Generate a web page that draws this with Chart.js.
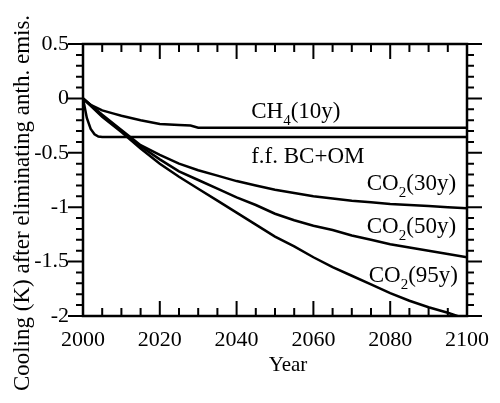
<!DOCTYPE html>
<html><head><meta charset="utf-8">
<script src="https://cdn.jsdelivr.net/npm/chart.js@4"></script>
<style>html,body{margin:0;padding:0;background:#fff}</style>
</head><body>
<canvas id="c" width="500" height="403"></canvas>
<script>
// ---- data ----
const co2Years = [2000,2005,2010,2015,2020,2025,2030,2035,2040,2045,2050,2055,2060,2065,2070,2075,2080,2085,2090,2095,2100];
const co2_30y  = [0,-0.15,-0.29,-0.43,-0.52,-0.60,-0.66,-0.71,-0.76,-0.80,-0.84,-0.87,-0.90,-0.92,-0.94,-0.955,-0.97,-0.98,-0.99,-1.00,-1.01];
const co2_50y  = [0,-0.16,-0.30,-0.44,-0.56,-0.67,-0.75,-0.83,-0.91,-0.98,-1.06,-1.12,-1.17,-1.21,-1.26,-1.30,-1.34,-1.37,-1.40,-1.43,-1.46];
const co2_95y  = [0,-0.17,-0.31,-0.46,-0.60,-0.72,-0.83,-0.94,-1.05,-1.16,-1.27,-1.36,-1.46,-1.55,-1.63,-1.71,-1.79,-1.86,-1.92,-1.97,-2.03];
const ch4Years = [2000,2002,2005,2008,2010,2015,2020,2025,2028,2030,2100];
const ch4Vals  = [0,-0.06,-0.11,-0.14,-0.16,-0.20,-0.235,-0.245,-0.25,-0.27,-0.27];
const bcYears  = [2000,2001,2002,2003,2004,2005,2100];
const bcVals   = [0,-0.18,-0.28,-0.33,-0.35,-0.355,-0.355];
const xTickValues = [2000,2020,2040,2060,2080,2100];
const xTickLabels = ['2000','2020','2040','2060','2080','2100'];
const yTickValues = [-2,-1.5,-1,-0.5,0,0.5];
const yTickLabels = ['-2','-1.5','-1','-0.5','0','0.5'];
const seriesLabels = [
  {main:'CH', sub:'4', rest:'(10y)', x:2043.8, y:-0.178},
  {main:'f.f. BC+OM', sub:'', rest:'', x:2043.8, y:-0.592},
  {main:'CO', sub:'2', rest:'(30y)', x:2073.9, y:-0.841},
  {main:'CO', sub:'2', rest:'(50y)', x:2073.9, y:-1.236},
  {main:'CO', sub:'2', rest:'(95y)', x:2074.4, y:-1.687}
];
const xTitle = 'Year';
const yTitle = 'Cooling (K) after eliminating anth. emis.';

const FONT = "'Liberation Serif', serif";
Chart.defaults.font.family = FONT;
const pts = (xs, ys) => xs.map((x,i)=>({x:x, y:ys[i]}));
const lineStyle = {borderColor:'#000', borderWidth:2.5, pointRadius:0, tension:0, fill:false};

const decor = {
  id:'decor',
  afterDraw(chart){
    const ctx = chart.ctx, xs = chart.scales.x, ys = chart.scales.y, a = chart.chartArea;
    ctx.save();
    ctx.strokeStyle = '#000'; ctx.lineCap = 'butt';
    ctx.lineWidth = 2;
    ctx.beginPath();
    for (let v = 2000; v <= 2100; v += 5) {
      const px = xs.getPixelForValue(v);
      const len = (v % 20 === 0) ? 15 : 8;
      ctx.moveTo(px, a.bottom); ctx.lineTo(px, a.bottom - len);
      ctx.moveTo(px, a.top); ctx.lineTo(px, a.top + len);
    }
    for (let i = -20; i <= 5; i++) {
      const v = i / 10;
      const py = ys.getPixelForValue(v);
      const len = (i % 5 === 0) ? 15 : 7;
      ctx.moveTo(a.left, py); ctx.lineTo(a.left - len, py);
      ctx.moveTo(a.right, py); ctx.lineTo(a.right + len, py);
    }
    ctx.stroke();
    ctx.lineWidth = 2.5;
    ctx.strokeRect(a.left, a.top, a.right - a.left, a.bottom - a.top);
    ctx.fillStyle = '#000';
    ctx.font = '21px ' + FONT;
    ctx.textAlign = 'center'; ctx.textBaseline = 'middle';
    ctx.fillText(xTitle, 288, 365);
    ctx.save();
    ctx.translate(23, 203); ctx.rotate(-Math.PI/2);
    ctx.font = '23px ' + FONT;
    ctx.fillText(yTitle, 0, 0);
    ctx.restore();
    ctx.textAlign = 'left'; ctx.textBaseline = 'alphabetic';
    seriesLabels.forEach(l => {
      let px = xs.getPixelForValue(l.x);
      const py = ys.getPixelForValue(l.y);
      ctx.font = '23px ' + FONT;
      ctx.fillText(l.main, px, py); px += ctx.measureText(l.main).width;
      if (l.sub) {
        ctx.font = '15px ' + FONT;
        ctx.fillText(l.sub, px, py + 7); px += ctx.measureText(l.sub).width;
      }
      if (l.rest) {
        ctx.font = '23px ' + FONT;
        ctx.fillText(l.rest, px, py);
      }
    });
    ctx.restore();
  }
};

new Chart(document.getElementById('c'), {
  type:'line',
  data:{datasets:[
    Object.assign({label:'CH4', data:pts(ch4Years, ch4Vals)}, lineStyle),
    Object.assign({label:'BC+OM', data:pts(bcYears, bcVals)}, lineStyle),
    Object.assign({label:'CO2 30y', data:pts(co2Years, co2_30y)}, lineStyle),
    Object.assign({label:'CO2 50y', data:pts(co2Years, co2_50y)}, lineStyle),
    Object.assign({label:'CO2 95y', data:pts(co2Years, co2_95y)}, lineStyle)
  ]},
  options:{
    responsive:false, animation:false, devicePixelRatio:1,
    layout:{padding:{left:0, right:32, top:44, bottom:0}},
    plugins:{legend:{display:false}, tooltip:{enabled:false}},
    scales:{
      x:{type:'linear', min:2000, max:2100,
        grid:{display:false, drawTicks:false}, border:{display:false},
        ticks:{color:'#000', font:{family:FONT, size:22}, padding:11, maxRotation:0, autoSkip:false,
          callback:(v)=>{const i = xTickValues.indexOf(v); return i>=0 ? xTickLabels[i] : '';}},
        afterBuildTicks:(s)=>{s.ticks = xTickValues.map(v=>({value:v}));},
        afterFit:(s)=>{s.height = 87;}
      },
      y:{type:'linear', min:-2, max:0.5,
        grid:{display:false, drawTicks:false}, border:{display:false},
        ticks:{color:'#000', font:{family:FONT, size:22}, padding:14, autoSkip:false,
          callback:(v)=>{const i = yTickValues.indexOf(v); return i>=0 ? yTickLabels[i] : '';}},
        afterBuildTicks:(s)=>{s.ticks = yTickValues.map(v=>({value:v}));},
        afterFit:(s)=>{s.width = 83;}
      }
    }
  },
  plugins:[decor]
});
</script>
</body></html>
